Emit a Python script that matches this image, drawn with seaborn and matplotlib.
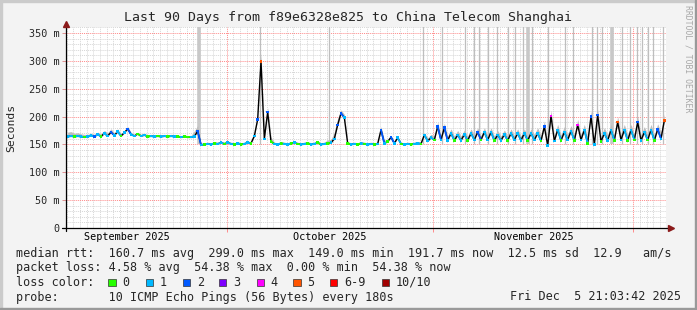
import numpy as np
import pandas as pd
import matplotlib
matplotlib.use("Agg")
import matplotlib.pyplot as plt
import matplotlib.dates as mdates
import matplotlib.transforms as mtransforms
from matplotlib.collections import LineCollection
from matplotlib.patches import Rectangle
import seaborn as sns

# ---------------- data ----------------
title = "Last 90 Days from f89e6328e825 to China Telecom Shanghai"
t_start = pd.Timestamp("2025-09-06 21:03:42")
t_end = pd.Timestamp("2025-12-05 21:03:42")
step_hours = 12

median_ms = [
    164, 165, 164, 165, 164, 163, 164, 166, 164, 168,
    164, 170, 165, 172, 166, 173, 165, 171, 178, 168,
    165, 169, 165, 167, 164, 165, 164, 165, 164, 165,
    164, 165, 164, 164, 163, 164, 163, 163, 164, 174,
    149, 150, 151, 150, 152, 151, 153, 151, 153, 151,
    150, 152, 150, 151, 153, 152, 165, 195, 299, 160,
    208, 155, 151, 150, 152, 151, 150, 152, 153, 151,
    150, 151, 152, 150, 151, 153, 150, 151, 152, 153,
    160, 185, 206, 198, 152, 150, 151, 150, 152, 151,
    150, 151, 150, 151, 176, 152, 155, 163, 152, 162,
    151, 150, 151, 150, 151, 152, 151, 167, 156, 162,
    158, 182, 158, 180, 157, 170, 157, 167, 157, 168,
    157, 170, 158, 172, 158, 172, 158, 172, 157, 167,
    157, 168, 157, 170, 158, 170, 157, 170, 157, 170,
    158, 170, 156, 182, 148, 201, 156, 176, 157, 172,
    158, 174, 157, 185, 158, 176, 152, 200, 150, 203,
    155, 170, 157, 176, 157, 190, 158, 176, 157, 176,
    158, 190, 157, 172, 158, 176, 157, 177, 160, 193,
]

loss = [
    1, 1, 0, 1, 1, 0, 1, 1, 2, 1, 0, 1, 1, 2, 1, 1, 0, 1, 2, 1,
    1, 0, 1, 1, 0, 1, 1, 0, 1, 1, 0, 1, 1, 0, 1, 0, 0, 1, 1, 2,
    1, 0, 1, 1, 0, 1, 1, 0, 1, 1, 0, 1, 0, 1, 1, 0, 1, 2, 5, 1,
    2, 0, 1, 1, 0, 1, 1, 0, 1, 0, 1, 1, 0, 1, 1, 0, 1, 1, 0, 1,
    1, 2, 2, 1, 0, 1, 1, 0, 1, 0, 1, 1, 0, 1, 2, 1, 0, 2, 1, 1,
    0, 1, 1, 0, 1, 1, 0, 1, 1, 1, 0, 2, 1, 2, 1, 1, 0, 1, 1, 1,
    0, 1, 1, 2, 0, 1, 1, 1, 0, 1, 1, 1, 0, 1, 1, 1, 1, 1, 0, 1,
    1, 1, 0, 2, 1, 4, 1, 1, 0, 1, 1, 1, 0, 4, 1, 1, 0, 2, 1, 2,
    0, 1, 1, 1, 0, 5, 1, 1, 0, 1, 0, 2, 1, 1, 0, 1, 0, 2, 1, 5,
]

smoke_spread_daily = [
    8, 6, 5, 4, 4, 5, 6, 5, 4, 4,
    3, 3, 3, 3, 3, 3, 3, 3, 3, 10,
    3, 3, 3, 3, 3, 3, 3, 3, 6, 15,
    8, 3, 3, 3, 3, 3, 3, 3, 3, 6,
    12, 6, 3, 3, 3, 3, 3, 6, 3, 3,
    3, 3, 3, 4, 6, 8, 8, 8, 8, 8,
    8, 8, 8, 8, 8, 8, 8, 8, 8, 8,
    10, 10, 10, 10, 10, 10, 10, 10, 10, 10,
    10, 10, 10, 10, 10, 10, 10, 10, 10, 12,
]

outlier_days = [19.95, 29.10, 39.40, 53.50, 56.35, 59.85, 61.20, 61.95, 63.30,
                64.60, 66.30, 67.35, 68.55, 69.30, 69.85, 72.30, 74.85, 76.05,
                78.85, 79.60, 80.35, 81.85, 83.35, 84.60, 85.60, 86.35, 87.30,
                88.05, 89.55]
wide_outlier_days = [19.95, 69.30, 81.85]

y_ticks = [0, 50, 100, 150, 200, 250, 300, 350]
y_tick_labels = ["0", "50 m", "100 m", "150 m", "200 m", "250 m", "300 m", "350 m"]
month_starts = ["2025-10-01", "2025-11-01", "2025-12-01"]
month_labels = ["September 2025", "October 2025", "November 2025"]
month_label_pos = ["2025-09-16 00:00", "2025-10-16 12:00", "2025-11-16 00:00"]

loss_colors = ["#26ff00", "#00b8ff", "#0059ff", "#7e00ff", "#ff00ff",
               "#ff5500", "#ff0000", "#a10000"]
loss_labels = ["0", "1", "2", "3", "4", "5", "6-9", "10/10"]
loss_box_x = [108.3, 145.7, 182.7, 219.0, 256.7, 293.3, 330.0, 381.7]

line_rtt = "median rtt:  160.7 ms avg  299.0 ms max  149.0 ms min  191.7 ms now  12.5 ms sd  12.9   am/s"
line_loss = "packet loss: 4.58 % avg  54.38 % max  0.00 % min  54.38 % now"
line_probe = "probe:       10 ICMP Echo Pings (56 Bytes) every 180s"
stamp = "Fri Dec  5 21:03:42 2025"

# ---------------- figure ----------------
sns.set_theme(style="white")
plt.rcParams['font.family'] = ['DejaVu Sans Mono', 'DejaVu Sans']

W, H = 697, 310
fig = plt.figure(figsize=(W / 100, H / 100), dpi=100, facecolor="#f3f3f3")


def fx(px):
    return px / W


def fy(py):
    return 1 - py / H


def loss_idx(l):
    return l if l <= 5 else (6 if l < 10 else 7)


ax = fig.add_axes([fx(66), fy(228), 600 / W, 200.6 / H])
ax.set_facecolor("white")

times = t_start + pd.to_timedelta(np.arange(len(median_ms)) * step_hours + step_hours / 2, unit="h")
df = pd.DataFrame({"time": times, "median": median_ms, "loss": loss})
df["spread"] = [smoke_spread_daily[i // 2] for i in range(len(df))]

# smoke outliers (gray vertical lines reaching the top)
for d in outlier_days:
    t = t_start + pd.Timedelta(days=d)
    wide = d in wide_outlier_days
    ax.vlines(t, 150, 380, color="#c8c8c8" if wide else "#bebebe",
              lw=2.6 if wide else 0.9, zorder=1.5)

# smoke band
ax.fill_between(df["time"], df["median"] - 1, df["median"] + df["spread"],
                color="#bdbdbd", lw=0, zorder=2)

# median line
sns.lineplot(data=df, x="time", y="median", color="black", lw=1.0, ax=ax,
             zorder=4, legend=False)

xn = mdates.date2num(df["time"])
m = df["median"].values
segs, cols = [], []
for i in range(len(m) - 1):
    if m[i] - 25 <= m[i + 1] <= m[i] + 2:
        segs.append([(xn[i], m[i]), (xn[i + 1], m[i + 1])])
        cols.append(loss_colors[loss_idx(loss[i])])
ax.add_collection(LineCollection(segs, colors=cols, lw=1.3, zorder=5))
ax.scatter(xn, m, c=[loss_colors[loss_idx(l)] for l in loss], s=3.5,
           marker="s", linewidths=0, zorder=6)

ax.set_xlim(t_start, t_end)
ax.set_ylim(0, 360)
ax.set_xlabel("")
ax.set_ylabel("")

# ticks & grid
ax.set_yticks(y_ticks)
ax.set_yticklabels(y_tick_labels)
ax.set_yticks(list(range(0, 361, 10)), minor=True)
ax.set_xticks(pd.to_datetime(month_starts))
ax.set_xticklabels([])
ax.xaxis.set_minor_locator(mdates.DayLocator())
ax.grid(which="minor", color="#d6d6d6", linestyle=(0, (1, 1)), lw=0.7)
ax.grid(which="major", color="#ff8a8a", linestyle=(0, (1, 1)), lw=0.7)
ax.set_axisbelow(True)
ax.tick_params(axis="y", which="major", length=3, width=0.7, color="#e09090",
               pad=1.5, labelsize=7.3, left=True)
ax.tick_params(axis="x", which="major", length=3, width=0.7, color="#ff8a8a",
               bottom=True)
ax.tick_params(which="minor", length=0)
for s in ax.spines.values():
    s.set_visible(False)

# axis lines with arrows
ax.plot([0, 0], [-0.015, 1.012], transform=ax.transAxes, color="black",
        lw=0.9, clip_on=False, zorder=7)
ax.plot([-0.006, 1.004], [0, 0], transform=ax.transAxes, color="black",
        lw=0.9, clip_on=False, zorder=7)
ax.plot([0], [1.018], marker="^", ms=5, color="#8b1a1a", transform=ax.transAxes,
        clip_on=False, zorder=8)
ax.plot([1.009], [0], marker=">", ms=5, color="#8b1a1a", transform=ax.transAxes,
        clip_on=False, zorder=8)

trans = mtransforms.blended_transform_factory(ax.transData, ax.transAxes)
for lab, pos in zip(month_labels, month_label_pos):
    ax.text(mdates.date2num(pd.Timestamp(pos)), -0.047, lab, transform=trans,
            ha="center", va="center", fontsize=7.3, color="black")

# texts
fig.text(fx(348), fy(18), title, ha="center", va="center", fontsize=9.5)
fig.text(fx(11), fy(128), "Seconds", rotation=90, ha="center", va="center",
         fontsize=8.2)
fig.text(fx(688), fy(59), "RRDTOOL / TOBI OETIKER", rotation=270, ha="center",
         va="center", fontsize=5.9, color="#a8a8a8")

fs = 8.45
fig.text(fx(16), fy(254), line_rtt, va="center", fontsize=fs)
fig.text(fx(16), fy(268), line_loss, va="center", fontsize=fs)
fig.text(fx(16), fy(282.3), "loss color:", va="center", fontsize=fs)
for bx, c, lab in zip(loss_box_x, loss_colors, loss_labels):
    fig.add_artist(Rectangle((fx(bx), fy(286.2)), 7.3 / W, 7.7 / H,
                             facecolor=c, edgecolor="#333333", lw=0.5,
                             transform=fig.transFigure))
    fig.text(fx(bx + 14), fy(282.3), lab, va="center", fontsize=fs)
fig.text(fx(16), fy(297), line_probe, va="center", fontsize=fs)
fig.text(fx(681), fy(297), stamp, va="center", ha="right", fontsize=fs)

# 3D border
fig.add_artist(Rectangle((0, 1 - 2 / H), 1, 2 / H, color="#cbcbcb", transform=fig.transFigure))
fig.add_artist(Rectangle((0, 0), 2 / W, 1, color="#cbcbcb", transform=fig.transFigure))
fig.add_artist(Rectangle((0, 0), 1, 2 / H, color="#999999", transform=fig.transFigure))
fig.add_artist(Rectangle((1 - 2 / W, 0), 2 / W, 1, color="#999999", transform=fig.transFigure))

fig.savefig("out.png", dpi=100, facecolor=fig.get_facecolor())
